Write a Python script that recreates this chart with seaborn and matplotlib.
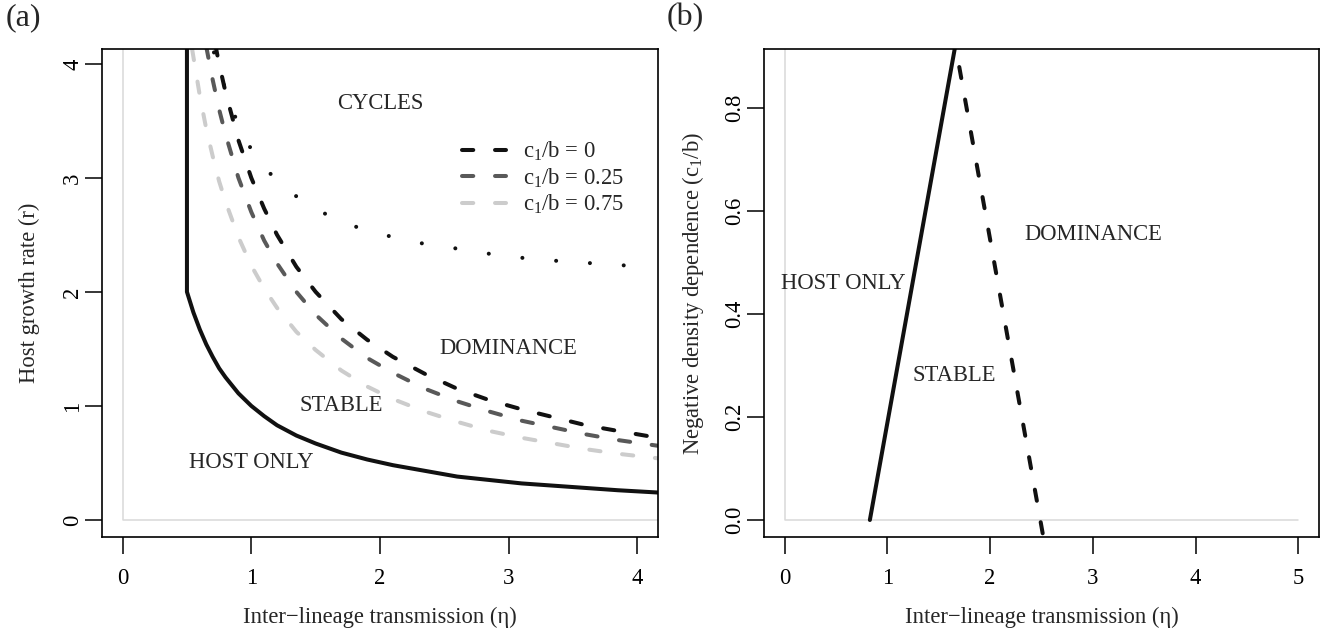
import matplotlib
matplotlib.use('Agg')
import matplotlib.pyplot as plt
import seaborn as sns
import pandas as pd
from matplotlib.lines import Line2D

# ---- panel (a): boundaries in (eta, r) ----
# solid: host-only boundary (vertical at eta=0.5, then the curve)
host_eta = [0.5, 0.5, 0.55, 0.6, 0.65, 0.7, 0.75, 0.8, 0.9, 1.0, 1.1, 1.2, 1.35, 1.5,
            1.7, 1.9, 2.1, 2.35, 2.6, 2.85, 3.1, 3.35, 3.6, 3.85, 4.16]
host_r = [4.3, 2.0, 1.82, 1.67, 1.54, 1.43, 1.33, 1.25, 1.11, 1.0, 0.91, 0.83, 0.74, 0.67,
          0.59, 0.53, 0.48, 0.43, 0.38, 0.35, 0.32, 0.30, 0.28, 0.26, 0.24]

# dashed: dominance boundary for three values of c1/b
dom0_eta = [0.72, 0.75, 0.8, 0.9, 1.0, 1.1, 1.2, 1.35, 1.5, 1.7, 1.9, 2.1, 2.35, 2.6,
            2.85, 3.1, 3.35, 3.6, 3.85, 4.16]
dom0_r = [4.17, 4.0, 3.75, 3.33, 3.0, 2.73, 2.5, 2.22, 2.0, 1.76, 1.58, 1.43, 1.28, 1.15,
          1.05, 0.97, 0.90, 0.83, 0.78, 0.72]

dom25_eta = [0.65, 0.7, 0.75, 0.8, 0.9, 1.0, 1.1, 1.2, 1.35, 1.5, 1.7, 1.9, 2.1, 2.35,
             2.6, 2.85, 3.1, 3.35, 3.6, 3.85, 4.16]
dom25_r = [4.15, 3.86, 3.6, 3.38, 3.0, 2.7, 2.45, 2.25, 2.0, 1.8, 1.59, 1.42, 1.29, 1.15,
           1.04, 0.95, 0.87, 0.81, 0.75, 0.70, 0.65]

dom75_eta = [0.54, 0.6, 0.65, 0.7, 0.75, 0.8, 0.9, 1.0, 1.1, 1.2, 1.35, 1.5, 1.7, 1.9,
             2.1, 2.35, 2.6, 2.85, 3.1, 3.35, 3.6, 3.85, 4.16]
dom75_r = [4.13, 3.72, 3.43, 3.19, 2.97, 2.79, 2.48, 2.23, 2.03, 1.86, 1.65, 1.49, 1.31, 1.17,
           1.06, 0.95, 0.86, 0.78, 0.72, 0.67, 0.62, 0.58, 0.54]

# dotted: cycles boundary
cyc_eta = [0.71, 0.76, 0.82, 0.92, 1.0, 1.08, 1.17, 1.27, 1.37, 1.48, 1.6, 1.72, 1.84,
           1.97, 2.1, 2.22, 2.35, 2.49, 2.75, 3.0, 3.27, 3.53, 3.79, 4.06]
cyc_r = [4.1, 3.92, 3.69, 3.41, 3.25, 3.12, 3.01, 2.91, 2.82, 2.74, 2.67, 2.61, 2.56,
         2.52, 2.48, 2.45, 2.42, 2.40, 2.35, 2.31, 2.28, 2.26, 2.24, 2.22]

legend_labels = ['c$_1$/b = 0', 'c$_1$/b = 0.25', 'c$_1$/b = 0.75']

# ---- panel (b): boundaries in (eta, c1/b) ----
host_b_eta = [0.83, 1.66]
host_b_c = [0.0, 0.92]
dom_b_eta = [1.70, 2.56]
dom_b_c = [0.88, -0.08]

# grey reference lines
ref_a_x = [0, 0, 4.3]
ref_a_y = [4.3, 0, 0]
ref_b_x = [0, 0, 5]
ref_b_y = [1.0, 0, 0]

sns.set_theme(style='ticks')
plt.rcParams['font.family'] = ['Liberation Serif', 'DejaVu Serif']
plt.rcParams['mathtext.default'] = 'regular'
FS = 16.3
LW = 2.9
DASH = (0, (2.8, 5.4))
DOT = (0, (0.01, 8.4))
BLACK = '#111111'
DARK = '#595959'
LIGHT = '#cccccc'
REF = '#d9d9d9'

fig = plt.figure(figsize=(13.2, 6.32), dpi=100)
ax1 = fig.add_axes([102 / 1320, 95 / 632, 556 / 1320, 488 / 632])
ax2 = fig.add_axes([764 / 1320, 95 / 632, 555 / 1320, 488 / 632])

line_kw = dict(estimator=None, sort=False, lw=LW, dash_capstyle='round', solid_capstyle='round')

# panel (a)
ax1.plot(ref_a_x, ref_a_y, color=REF, lw=1.1, zorder=1)
sns.lineplot(x=host_eta, y=host_r, color=BLACK, ax=ax1, **line_kw)
sns.lineplot(x=cyc_eta, y=cyc_r, color=BLACK, linestyle=DOT, ax=ax1, **line_kw)
sns.lineplot(x=dom75_eta, y=dom75_r, color=LIGHT, linestyle=DASH, ax=ax1, **line_kw)
sns.lineplot(x=dom25_eta, y=dom25_r, color=DARK, linestyle=DASH, ax=ax1, **line_kw)
sns.lineplot(x=dom0_eta, y=dom0_r, color=BLACK, linestyle=DASH, ax=ax1, **line_kw)

ax1.set_xlim(-0.16, 4.16)
ax1.set_ylim(-0.15, 4.13)
ax1.set_xticks([0, 1, 2, 3, 4])
ax1.set_yticks([0, 1, 2, 3, 4])
ax1.set_xlabel('Inter\u2212lineage transmission (\u03b7)', fontsize=FS, va='center')
ax1.set_ylabel('Host growth rate (r)', fontsize=FS, va='center')
ax1.xaxis.set_label_coords(0.5, -0.164)
ax1.yaxis.set_label_coords(-0.13, 0.5)

ax1.text(2.0, 3.65, 'CYCLES', fontsize=FS, ha='center', va='center')
ax1.text(3.0, 1.5, 'DOMINANCE', fontsize=FS, ha='center', va='center')
ax1.text(1.7, 1.0, 'STABLE', fontsize=FS, ha='center', va='center')
ax1.text(1.0, 0.5, 'HOST ONLY', fontsize=FS, ha='center', va='center')

handles = [Line2D([], [], color=c, lw=LW, linestyle=DASH, dash_capstyle='round')
           for c in (BLACK, DARK, LIGHT)]
ax1.legend(handles, legend_labels, loc='upper left', bbox_to_anchor=(0.647, 0.814),
           frameon=False, fontsize=FS, handlelength=1.95, handletextpad=0.75,
           labelspacing=0.14, borderpad=0, borderaxespad=0)

# panel (b)
ax2.plot(ref_b_x, ref_b_y, color=REF, lw=1.1, zorder=1)
sns.lineplot(x=host_b_eta, y=host_b_c, color=BLACK, ax=ax2, **line_kw)
sns.lineplot(x=dom_b_eta, y=dom_b_c, color=BLACK, linestyle=DASH, ax=ax2, **line_kw)

ax2.set_xlim(-0.2, 5.2)
ax2.set_ylim(-0.033, 0.915)
ax2.set_xticks([0, 1, 2, 3, 4, 5])
ax2.set_yticks([0.0, 0.2, 0.4, 0.6, 0.8])
ax2.set_yticklabels(['0.0', '0.2', '0.4', '0.6', '0.8'])
ax2.set_xlabel('Inter\u2212lineage transmission (\u03b7)', fontsize=FS, va='center')
ax2.set_ylabel('Negative density dependence (c$_1$/b)', fontsize=FS, va='center')
ax2.xaxis.set_label_coords(0.5, -0.164)
ax2.yaxis.set_label_coords(-0.128, 0.5)

ax2.text(0.57, 0.46, 'HOST ONLY', fontsize=FS, ha='center', va='center')
ax2.text(1.65, 0.28, 'STABLE', fontsize=FS, ha='center', va='center')
ax2.text(3.0, 0.555, 'DOMINANCE', fontsize=FS, ha='center', va='center')

for ax in (ax1, ax2):
    for sp in ax.spines.values():
        sp.set_visible(True)
        sp.set_color('black')
        sp.set_linewidth(1.2)
    ax.tick_params(axis='both', direction='out', length=12, width=1.1, color='black',
                   labelsize=FS, labelcolor='black')
    ax.tick_params(axis='x', pad=10)
    ax.tick_params(axis='y', pad=1.5)
    for lab in ax.get_yticklabels():
        lab.set_rotation(90)
        lab.set_va('center')
        lab.set_ha('right')
    ax.set_facecolor('white')

fig.text(0.004, 1 - 18 / 632, '(a)', fontsize=23, ha='left', va='center')
fig.text(0.505, 1 - 18 / 632, '(b)', fontsize=23, ha='left', va='center')

fig.savefig('out.png', dpi=100, facecolor='white')
